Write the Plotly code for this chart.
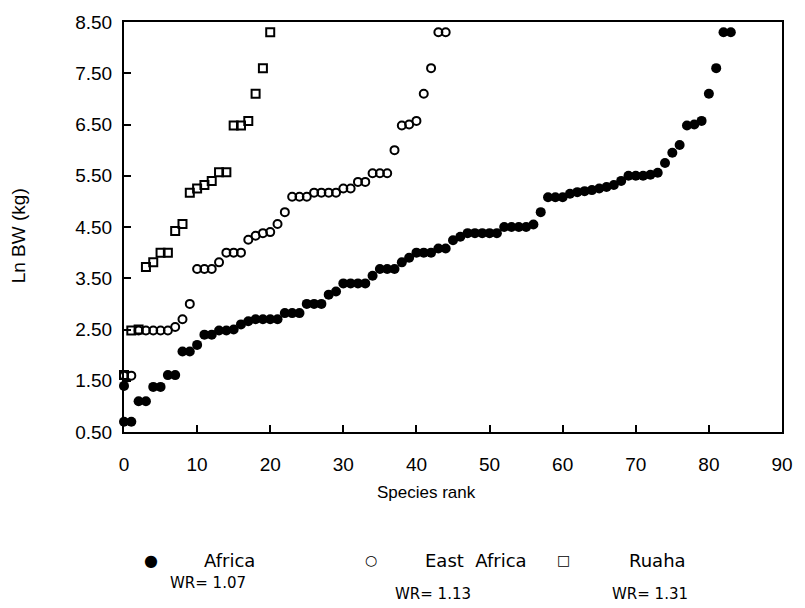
import plotly.graph_objects as go

# ln body weight (kg) of species, sorted ascending; rank = position in list
africa_lnbw = [
    0.70, 0.70, 1.10, 1.10, 1.38, 1.38, 1.61, 1.61, 2.07, 2.07,
    2.20, 2.40, 2.40, 2.48, 2.48, 2.50, 2.60, 2.66, 2.70, 2.70,
    2.70, 2.70, 2.82, 2.82, 2.82, 3.00, 3.00, 3.00, 3.18, 3.24,
    3.40, 3.40, 3.40, 3.40, 3.55, 3.68, 3.68, 3.68, 3.81, 3.90,
    4.00, 4.00, 4.00, 4.08, 4.08, 4.24, 4.31, 4.38, 4.38, 4.38,
    4.38, 4.38, 4.50, 4.50, 4.50, 4.50, 4.55, 4.79, 5.08, 5.08,
    5.08, 5.15, 5.18, 5.20, 5.22, 5.25, 5.28, 5.32, 5.40, 5.50,
    5.50, 5.50, 5.52, 5.56, 5.75, 5.95, 6.10, 6.48, 6.50, 6.57,
    7.10, 7.60, 8.30, 8.30,
]
# stray Africa point drawn at rank 0
africa_extra_rank = [0]
africa_extra_lnbw = [1.40]

east_africa_lnbw = [
    1.60, 1.60, 2.48, 2.48, 2.48, 2.48, 2.48, 2.55, 2.70, 3.00,
    3.68, 3.68, 3.68, 3.81, 4.00, 4.00, 4.00, 4.25, 4.33, 4.38,
    4.40, 4.56, 4.79, 5.09, 5.09, 5.09, 5.17, 5.17, 5.17, 5.17,
    5.25, 5.25, 5.38, 5.38, 5.55, 5.55, 5.55, 6.00, 6.48, 6.50,
    6.57, 7.10, 7.60, 8.30, 8.30,
]

ruaha_lnbw = [
    1.61, 2.48, 2.50, 3.72, 3.81, 4.00, 4.00, 4.42, 4.56, 5.17,
    5.25, 5.32, 5.40, 5.57, 5.57, 6.48, 6.48, 6.57, 7.10, 7.60,
    8.30,
]

legend_names = ["Africa", "East  Africa", "Ruaha"]
legend_wr = ["WR= 1.07", "WR= 1.13", "WR= 1.31"]

font_family = "Liberation Sans, Arial, sans-serif"
wide_font = "DejaVu Sans, sans-serif"

W, H = 805, 608
L, R, T, B = 124, 20, 14, 176


def px_x(p):
    return (p - L) / (W - L - R)


def px_y(p):
    return (H - B - p) / (H - T - B)


fig = go.Figure()

fig.add_trace(go.Scatter(
    x=list(range(len(africa_lnbw))) + africa_extra_rank,
    y=africa_lnbw + africa_extra_lnbw,
    mode="markers",
    name="Africa",
    cliponaxis=False,
    marker=dict(symbol="circle", size=10, color="black", line=dict(width=0))
))
fig.add_trace(go.Scatter(
    x=list(range(len(east_africa_lnbw))),
    y=east_africa_lnbw,
    mode="markers",
    name="East Africa",
    cliponaxis=False,
    marker=dict(symbol="circle-open", size=8, color="black", line=dict(width=2))
))
fig.add_trace(go.Scatter(
    x=list(range(len(ruaha_lnbw))),
    y=ruaha_lnbw,
    mode="markers",
    name="Ruaha",
    cliponaxis=False,
    marker=dict(symbol="square-open", size=8, color="black", line=dict(width=2))
))

axis_style = dict(
    ticks="inside",
    ticklen=7,
    tickwidth=2,
    tickcolor="black",
    showline=True,
    linecolor="black",
    linewidth=2,
    mirror=True,
    showgrid=False,
    zeroline=False,
    tickfont=dict(size=19, color="black", family=font_family),
)
fig.update_xaxes(range=[0, 90], tick0=0, dtick=10, ticklabelstandoff=14, **axis_style)
fig.update_yaxes(range=[0.5, 8.5], tick0=0.5, dtick=1, tickformat=".2f",
                 ticklabelstandoff=6, **axis_style)

# axis titles
fig.add_annotation(
    x=px_x(428), y=px_y(494), xref="paper", yref="paper",
    text="Species rank", showarrow=False, xanchor="center", yanchor="middle",
    font=dict(size=17, color="black", family=font_family)
)
fig.add_annotation(
    x=px_x(18), y=px_y(232), xref="paper", yref="paper",
    text="Ln BW (kg)", showarrow=False, textangle=-90,
    xanchor="center", yanchor="middle",
    font=dict(size=19, color="black", family=font_family)
)

# legend drawn as text below the axis title
legend_symbols = ["\u25CF", "\u25CB", "\u25A1"]
symbol_x = [151, 372, 566]
name_x = [230, 478, 660]
wr_x = [208, 434, 652]
wr_y = [586, 597, 597]
for i in range(3):
    fig.add_annotation(
        x=px_x(symbol_x[i]), y=px_y(563), xref="paper", yref="paper",
        text=legend_symbols[i], showarrow=False, xanchor="center", yanchor="middle",
        font=dict(size=16 if i == 0 else 14, color="black", family=wide_font)
    )
    fig.add_annotation(
        x=px_x(name_x[i]), y=px_y(563), xref="paper", yref="paper",
        text=legend_names[i].replace("  ", "&nbsp; "), showarrow=False,
        xanchor="center", yanchor="middle",
        font=dict(size=18, color="black", family=wide_font)
    )
    fig.add_annotation(
        x=px_x(wr_x[i]), y=px_y(wr_y[i]), xref="paper", yref="paper",
        text=legend_wr[i], showarrow=False, xanchor="center", yanchor="middle",
        font=dict(size=15, color="black", family=wide_font)
    )

fig.update_layout(
    width=W,
    height=H,
    template="plotly_white",
    paper_bgcolor="white",
    plot_bgcolor="white",
    font=dict(family=font_family, size=16, color="black"),
    showlegend=False,
    margin=dict(l=L, r=R, t=T, b=B),
)

fig.write_html(
    "out.html",
    config={"displayModeBar": False},
    post_script="document.body.style.margin='0';",
)
